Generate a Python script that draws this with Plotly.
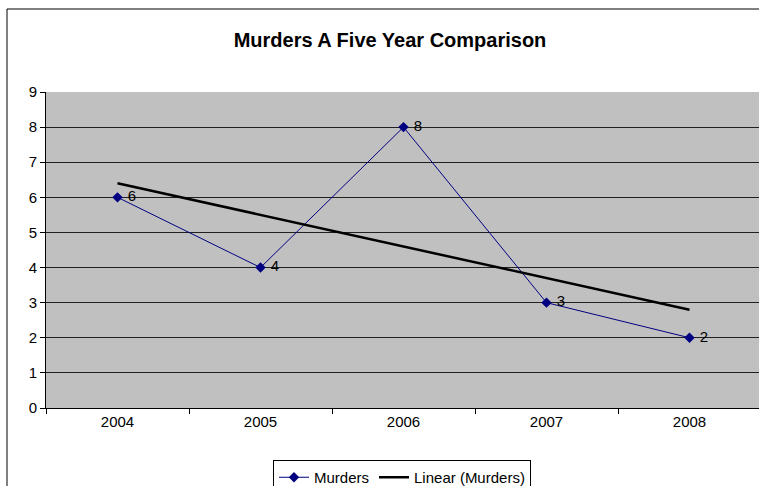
import plotly.graph_objects as go

# Data
years = ["2004", "2005", "2006", "2007", "2008"]
murders = [6, 4, 8, 3, 2]
trend_years = ["2004", "2008"]
trend_values = [6.4, 2.8]
y_ticks = [0, 1, 2, 3, 4, 5, 6, 7, 8, 9]

W, H = 759, 486
L, R, T, B = 46, 0, 92, 78
pw, ph = W - L - R, H - T - B

font = "Liberation Sans, Arial, sans-serif"

fig = go.Figure()

fig.add_trace(go.Scatter(
    x=years, y=murders, name="Murders",
    mode="lines+markers+text",
    line=dict(color="#000080", width=1),
    marker=dict(symbol="diamond", size=8, color="#000080"),
    text=[str(v) for v in murders], textposition="middle right",
    texttemplate=" %{text}",
    textfont=dict(size=15, color="black", family=font),
))

fig.add_trace(go.Scatter(
    x=trend_years, y=trend_values, name="Linear (Murders)",
    mode="lines", line=dict(color="black", width=2.5),
))

# outer chart border: only its left and top edges fall inside the picture
bx0 = (7 - L) / pw
bx1 = (W + 20 - L) / pw
by0 = -(B + 20) / ph
by1 = 1 + (T - 9) / ph
fig.add_shape(type="path", xref="paper", yref="paper",
              path=f"M {bx0},{by0} L {bx0},{by1} L {bx1},{by1}",
              line=dict(color="black", width=1), layer="below")

fig.update_layout(
    width=W, height=H,
    margin=dict(l=L, r=R, t=T, b=B, autoexpand=False),
    paper_bgcolor="white", plot_bgcolor="#C0C0C0",
    font=dict(family=font, size=15, color="black"),
    title=dict(text="<b>Murders A Five Year Comparison</b>",
               x=(390 - L) / pw, xref="paper", xanchor="center",
               y=1 - 40 / H, yanchor="middle",
               font=dict(size=20, family=font, color="black")),
    xaxis=dict(type="category", range=[-0.5, 4.486],
               showgrid=False, showline=True, linecolor="black", linewidth=1,
               ticks="outside", ticklen=5, tickcolor="black",
               tickson="boundaries", tickfont=dict(size=15), zeroline=False),
    yaxis=dict(range=[0, 9], tickvals=y_ticks,
               showgrid=True, gridcolor="#202020", gridwidth=1,
               showline=True, linecolor="black", linewidth=1,
               ticks="outside", ticklen=5, tickcolor="black",
               tickfont=dict(size=15), zeroline=False),
    showlegend=True,
    legend=dict(orientation="h", x=(402 - L) / pw, xanchor="center",
                y=-(460 - 408) / ph, yanchor="top",
                bordercolor="black", borderwidth=1, bgcolor="white",
                font=dict(size=15), itemwidth=30,
                tracegroupgap=0),
)

# drop the default page margin so the figure sits at the window's corner
fig.write_html("out.html", config={"displayModeBar": False},
               post_script="document.body.style.margin='0';"
                           "document.body.style.overflow='hidden';")
